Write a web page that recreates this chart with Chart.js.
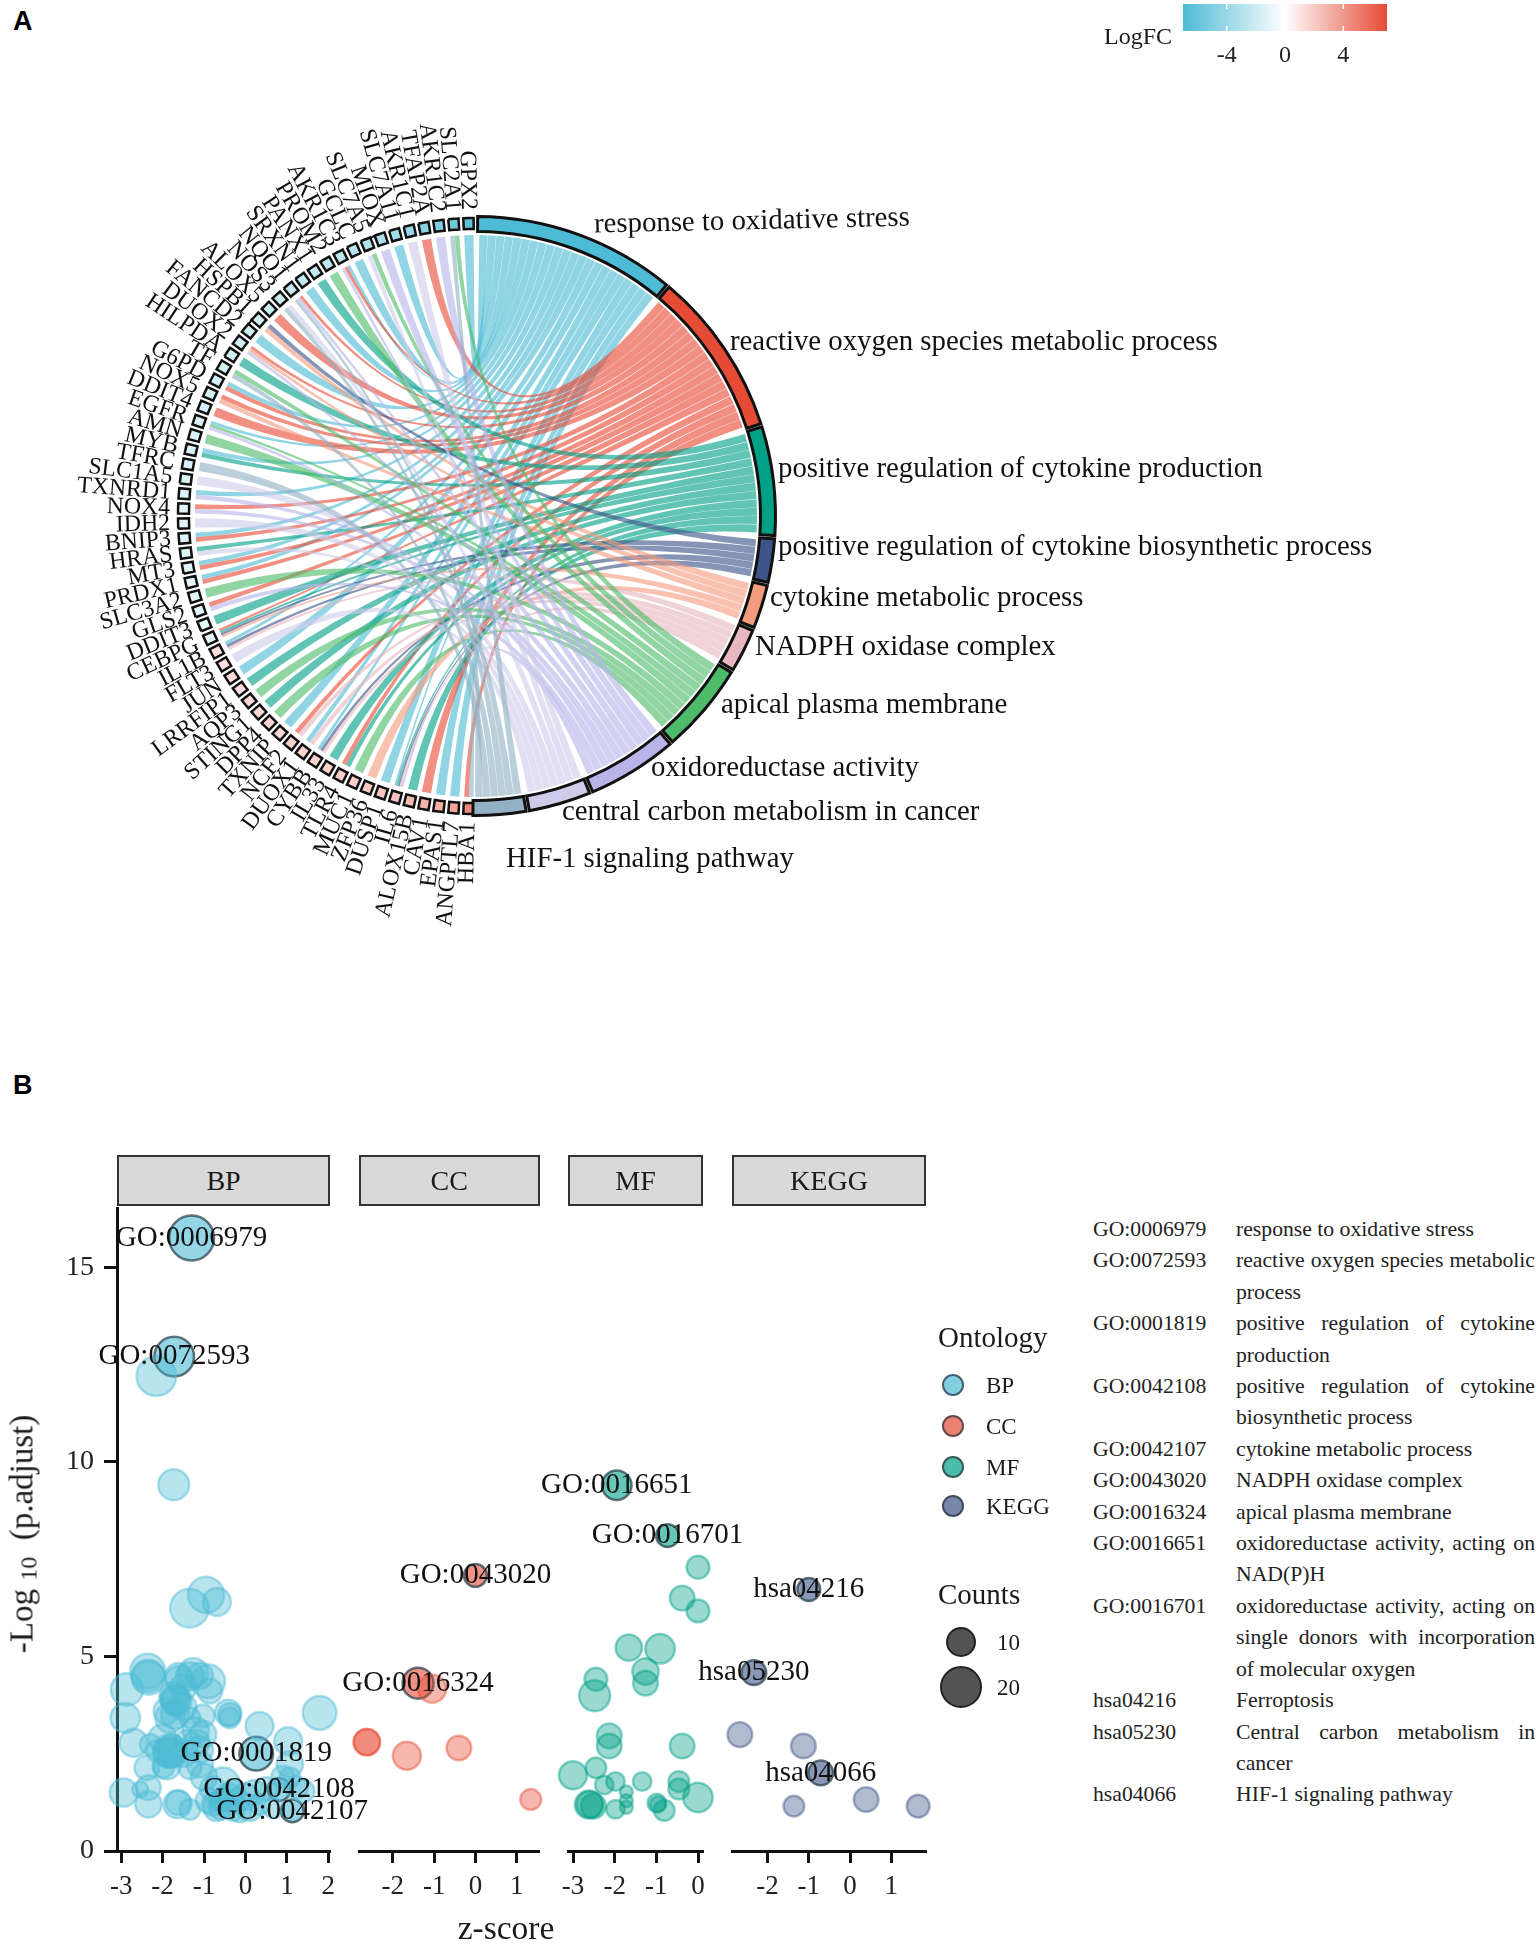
<!DOCTYPE html>
<html>
<head>
<meta charset="utf-8">
<title>GO and KEGG enrichment</title>
<script src="https://cdn.jsdelivr.net/npm/chart.js@4/dist/chart.umd.min.js"></script>
<style>
  html, body { margin: 0; padding: 0; background: #fff; }
  #page { position: relative; width: 1536px; height: 1947px; overflow: hidden;
          font-family: "Liberation Serif", serif; color: #1a1a1a; }
  canvas { position: absolute; }
  .abs { position: absolute; white-space: nowrap; }
  .letter { font: bold 27px "Liberation Sans", sans-serif; color: #000; }
  .strip { position: absolute; box-sizing: border-box; top: 1155px; height: 51px; background: #d9d9d9;
           border: 2.5px solid #333; text-align: center; font-size: 28px; line-height: 47px; }
  .dot { position: absolute; border-radius: 50%; box-sizing: border-box; }
  #goTable { position: absolute; left: 1093px; top: 1214px; width: 442px; display: grid;
             grid-template-columns: 143px 299px; font-size: 21.7px; line-height: 31.4px; color: #222; }
  #goTable div:nth-child(even) { text-align: justify; }
</style>
</head>
<body>
<div id="page">
  <div class="abs letter" style="left:13px;top:6px">A</div>
  <div class="abs letter" style="left:13px;top:1070px">B</div>
  <canvas id="chord" width="1536" height="1032" style="left:0;top:0"></canvas>
  <div class="abs" style="left:1104px;top:23px;font-size:24px">LogFC</div>
  <canvas id="colorbar" width="240" height="72" style="left:1170px;top:0"></canvas>

  <canvas id="panelBP"></canvas>
  <canvas id="panelCC"></canvas>
  <canvas id="panelMF"></canvas>
  <canvas id="panelKEGG"></canvas>
  <div id="strips"></div>
  <div class="abs" style="left:22px;top:1534px;font-size:33px;transform:translate(-50%,-50%) rotate(-90deg)">-Log <span style="font-size:24px;position:relative;top:4px">10</span>&nbsp; (p.adjust)</div>
  <div class="abs" style="left:506px;top:1928px;font-size:33.5px;transform:translate(-50%,-50%)">z-score</div>

  <div id="legends"></div>
  <div id="goTable"></div>
</div>

<script>
// ---- panel A data ----
const terms = ["response to oxidative stress", "reactive oxygen species metabolic process",
  "positive regulation of cytokine production", "positive regulation of cytokine biosynthetic process",
  "cytokine metabolic process", "NADPH oxidase complex", "apical plasma membrane",
  "oxidoreductase activity", "central carbon metabolism in cancer", "HIF-1 signaling pathway"];
const termColors = ["#4DBBD5", "#E64B35", "#00A087", "#3C5488", "#F39B7F", "#E7B8C0", "#4DBB6A", "#B7B4E8", "#CFCBEA", "#91B1C4"];

const genes = ["GPX2", "SLC2A1", "AKR1C2", "TFAP2A", "AKR1C1", "SLC7A11", "MIOX", "SLC7A5", "GCLC", "AKR1C3",
  "PROM2", "PANX1", "SRXN1", "NQO1", "NOS3", "ALOX5", "HSPB1", "FANCD2", "DUOX2", "HILPDA",
  "TF", "G6PD", "NOX5", "DDIT4", "EGFR", "AMN", "MYB", "TFRC", "SLC1A5", "TXNRD1",
  "NOX4", "IDH2", "BNIP3", "HRAS", "MT3", "PRDX1", "SLC3A2", "GLS2", "DDIT3", "CEBPG",
  "IL1B", "FLT3", "JUN", "LRRFIP1", "AQP3", "STING1", "DPP4", "TXNIP", "NCF2", "DUOX1",
  "CYBB", "IL33", "TLR4", "MUC1", "ZFP36", "DUSP1", "IL6", "ALOX15B", "CAV1", "EPAS1",
  "ANGPTL7", "HBA1"];
const geneLogFC = [-6.2, -5.6, -5, -4.6, -4, -3.6, -3.2, -3, -2.7, -2.6,
  -2.5, -2.4, -2.3, -2.2, -2.1, -2, -1.9, -1.9, -1.8, -1.8,
  -1.7, -1.7, -1.6, -1.6, -1.5, -1.5, -1.5, -1.4, -1.4, -1.3,
  -1.3, -1.3, -1.2, -1.2, -1.2, -1.1, -1.1, -1.1, -1, -1,
  1.3, 1.3, 1.4, 1.4, 1.5, 1.5, 1.6, 1.6, 1.7, 1.7,
  1.8, 1.8, 1.9, 2, 2.1, 2.2, 2.4, 2.6, 2.9, 3.2, 3.6, 4.6];
// term indexes linked to each gene, same order as genes
const geneTerms = [[0], [6, 9], [7], [1], [8], [0], [7], [6, 8], [0], [0, 1, 7],
  [6], [2], [0], [1, 7, 9], [8, 9], [1], [3, 4], [0], [1, 4, 7], [2],
  [6, 9], [0, 1], [1, 4], [1], [0, 6, 7], [6], [0, 2], [9], [8], [0, 7],
  [1, 7], [8], [0, 1], [2, 8], [0, 1], [0, 1], [6], [1, 7], [2], [1, 2, 3, 4],
  [0, 3, 5], [8], [0], [2], [6], [2], [6], [0], [1, 5], [0, 5],
  [0, 3, 5], [2], [1, 2], [6], [4], [0], [0, 2, 3, 5, 7], [2], [1], [0],
  [0], [1, 9]];
const termGap = 99;   // share of the ring left to the genes
const geneGap = 62;   // share of the ring left to the terms
const colorbarRange = [-7, 7];

// ---- panel B data ----
const bpIds = ["GO:0006979", "GO:0072593", "GO:0001819", "GO:0042108", "GO:0042107"];
const bpZ = [-1.30, -1.72, 0.26, 0.81, 1.13,
  -2.15, -1.73, -1.35, -0.95, -0.69, 1.79, 0.34, 1.03, -2.36, -2.34, -2.86, -2.90, -2.70, -1.70, -1.66,
  -1.74, -1.62, -1.26, -1.34, -0.90, -0.86, -1.82, -1.34, -1.02, -0.42, -0.38, -0.38, -1.02, -1.18, -1.82,
  -1.78, -1.86, -2.14, -2.30, -2.38, -1.98, -1.34, -1.10, -2.94, -2.34, -2.34, -2.54, -1.64, -1.62, -1.34,
  -0.78, -0.70, -0.54, -0.30, -0.54, -0.30, 0.10, 0.34, -0.14, 1.07, 1.07, 1.23, 1.39, 0.67,
  -1.0, -0.8, -0.6, -0.4, -0.2, 0, 0.2, 0.5, 0.9, -0.9, -0.6, -1.1, -1.4, -1.5, -1.2, -2.0, -1.9, -1.7, -1.5, -1.9,
  -1.6, -1.1, -1.5, -1.8, -1.75, -1.7, -2.35];
const bpLogP = [15.75, 12.7, 2.5, 1.58, 1.03,
  12.2, 9.41, 6.24, 6.58, 6.4, 3.55, 3.21, 2.82, 4.62, 4.45, 4.15, 3.42, 2.78, 3.89, 3.85,
  3.98, 4.49, 4.58, 4.49, 4.36, 4.11, 3.42, 3.42, 3.47, 3.55, 3.51, 3.42, 3.0, 2.78, 2.57,
  2.61, 2.52, 2.57, 2.74, 2.14, 2.14, 2.14, 2.23, 1.50, 1.63, 1.20, 1.58, 1.20, 1.24, 1.07,
  1.20, 1.11, 1.28, 1.07, 1.71, 1.54, 1.11, 1.20, 1.03, 2.23, 1.88, 1.63, 1.54, 1.11,
  1.9, 1.6, 1.3, 1.4, 1.3, 1.4, 1.5, 1.6, 1.9, 1.3, 1.1, 2.6, 2.8, 2.5, 3.1, 2.9, 2.2, 3.5, 3.7, 3.6,
  4.4, 4.5, 4.2, 2.55, 2.5, 3.9, 4.5];
const bpCount = [22, 17, 12, 5, 5,
  17, 10, 16, 14, 8, 12, 8, 8, 13, 12, 11, 9, 8, 9, 9,
  8, 7, 9, 8, 12, 6, 9, 4, 5, 7, 5, 4, 7, 7, 12,
  9, 9, 4, 4, 6, 4, 5, 7, 8, 6, 7, 2, 8, 6, 4,
  5, 7, 5, 5, 12, 5, 7, 4, 5, 7, 4, 5, 5, 4,
  7, 6, 5, 7, 6, 7, 6, 5, 5, 6, 5, 7, 6, 7, 7, 8, 8, 8, 7, 7,
  8, 7, 7, 9, 8, 8, 11];

const ccIds = ["GO:0043020", "GO:0016324"];
const ccZ = [0, -1.39, -1.05, -2.63, -2.63, -1.66, -0.40, 1.34];
const ccLogP = [7.06, 4.30, 4.16, 2.79, 2.79, 2.44, 2.64, 1.32];
const ccCount = [5, 10, 8, 7, 7, 8, 6, 4];

const mfIds = ["GO:0016651", "GO:0016701"];
const mfZ = [-1.95, -0.73, 0, -0.38, 0, -1.66, -0.91, -1.26, -1.26, -2.45, -2.48, -2.13, -2.13, -0.38, -3.0, -2.45,
  -1.98, -2.25, -1.72, -1.72, -1.72, -1.34, -0.46, -0.46, 0, -2.62, -2.60, -2.51, -1.98, -0.99, -0.96, -0.81];
const mfLogP = [9.37, 8.08, 7.27, 6.48, 6.15, 5.21, 5.18, 4.6, 4.3, 4.4, 3.98, 2.95, 2.69, 2.69, 1.94, 2.13,
  1.78, 1.69, 1.51, 1.29, 1.12, 1.78, 1.78, 1.59, 1.37, 1.19, 1.19, 1.15, 1.07, 1.23, 1.2, 1.04];
const mfCount = [9, 5, 5, 6, 5, 7, 9, 7, 6, 5, 10, 6, 6, 6, 8, 4,
  3, 3, 1, 1, 1, 3, 4, 4, 9, 8, 7, 6, 3, 3, 2, 4];

const keggIds = ["hsa04216", "hsa05230", "hsa04066"];
const keggZ = [-1, -2.33, -0.71, -2.67, -1.13, -1.36, 0.39, 1.65];
const keggLogP = [6.7, 4.57, 2.0, 2.98, 2.69, 1.15, 1.32, 1.15];
const keggCount = [5, 6, 6, 6, 6, 4, 6, 5];

const ontologies = ["BP", "CC", "MF", "KEGG"];
const ontologyColors = [[77, 187, 213], [230, 75, 53], [0, 160, 135], [60, 84, 136]];
const legendCounts = [10, 20];

const tableRows = [
  ["GO:0006979", "response to oxidative stress"],
  ["GO:0072593", "reactive oxygen species metabolic process"],
  ["GO:0001819", "positive regulation of cytokine production"],
  ["GO:0042108", "positive regulation of cytokine biosynthetic process"],
  ["GO:0042107", "cytokine metabolic process"],
  ["GO:0043020", "NADPH oxidase complex"],
  ["GO:0016324", "apical plasma membrane"],
  ["GO:0016651", "oxidoreductase activity, acting on NAD(P)H"],
  ["GO:0016701", "oxidoreductase activity, acting on single donors with incorporation of molecular oxygen"],
  ["hsa04216", "Ferroptosis"],
  ["hsa05230", "Central carbon metabolism in cancer"],
  ["hsa04066", "HIF-1 signaling pathway"]
];

Chart.defaults.font.family = '"Liberation Serif", serif';
Chart.defaults.color = "#1a1a1a";
Chart.defaults.animation = false;
Chart.defaults.events = [];
Chart.defaults.plugins.legend.display = false;
Chart.defaults.plugins.tooltip.enabled = false;

// ---- helpers ----
function hexToRgb(hex) {
  return [1, 3, 5].map(i => parseInt(hex.slice(i, i + 2), 16));
}
function rgba(c, a) {
  return `rgba(${c[0]},${c[1]},${c[2]},${a})`;
}
function logfcColor(v) {
  const end = v < 0 ? hexToRgb(termColors[0]) : hexToRgb(termColors[1]);
  const t = Math.min(Math.abs(v) / 7, 1);
  return rgba(end.map(e => Math.round(255 + (e - 255) * t)), 1);
}
// size of a bubble in pixels from its gene count
function countRadius(c) {
  return Math.sqrt(20 + 22 * c);
}

// ---- panel A ----
// term label anchors in pixels: left edge, middle, tilt in radians
const termLabelPos = [[594, 225, -0.022], [730, 342, 0], [778, 469, 0], [778, 547, 0], [770, 598, 0],
  [755, 647, 0], [721, 705, 0], [651, 768, 0], [562, 812, 0], [506, 859, 0]];

const chordPlugin = {
  id: "chord",
  afterDatasetsUpdate(chart) {
    // rings overlap in one band, terms are a bit wider than the gene squares
    const shrink = (a, outer, inner, gap) => {
      a.outerRadius = outer;
      a.innerRadius = inner;
      a.startAngle += gap;
      a.endAngle -= gap;
      a.circumference -= 2 * gap;
    };
    chart.getDatasetMeta(0).data.forEach(a => shrink(a, 299.5, 284.5, 0.0055));
    chart.getDatasetMeta(1).data.forEach(a => shrink(a, 298, 287, 0.008));
  },
  beforeDatasetsDraw(chart) {
    const ctx = chart.ctx;
    const termArcs = chart.getDatasetMeta(0).data;
    const geneArcs = chart.getDatasetMeta(1).data;
    const cx = termArcs[0].x, cy = termArcs[0].y, r = 281;
    const used = terms.map(() => 0);
    const counts = terms.map((_, t) => geneTerms.filter(g => g.includes(t)).length);
    const ribbons = terms.map(() => []);

    geneTerms.forEach((links, i) => {
      const arc = geneArcs[genes.length - i];
      const mid = (arc.startAngle + arc.endAngle) / 2;
      const w = (arc.endAngle - arc.startAngle) * 0.95;
      links.forEach((t, k) => {
        const a1 = mid + w / 2 - k * w / links.length;
        const a2 = a1 - w / links.length;
        const ta = termArcs[t];
        const dt = (ta.endAngle - ta.startAngle - 0.012) / counts[t];
        const b1 = ta.startAngle + 0.006 + used[t] * dt;
        used[t]++;
        ribbons[t].push([a1, a2, b1, b1 + dt * 0.96]);
      });
    });

    ctx.save();
    ribbons.forEach((list, t) => {
      ctx.fillStyle = rgba(hexToRgb(termColors[t]), 0.62);
      list.forEach(([a1, a2, b1, b2]) => {
        ctx.beginPath();
        ctx.moveTo(cx + r * Math.cos(a1), cy + r * Math.sin(a1));
        ctx.quadraticCurveTo(cx, cy, cx + r * Math.cos(b1), cy + r * Math.sin(b1));
        ctx.arc(cx, cy, r, b1, b2, false);
        ctx.quadraticCurveTo(cx, cy, cx + r * Math.cos(a2), cy + r * Math.sin(a2));
        ctx.arc(cx, cy, r, a2, a1, false);
        ctx.closePath();
        ctx.fill();
      });
    });
    ctx.restore();
  },
  afterDatasetsDraw(chart) {
    const ctx = chart.ctx;
    const geneArcs = chart.getDatasetMeta(1).data;
    ctx.save();
    ctx.fillStyle = "#111";
    ctx.textBaseline = "middle";
    ctx.font = '23.8px "Liberation Serif"';
    ctx.textAlign = "right";
    genes.forEach((g, i) => {
      const arc = geneArcs[genes.length - i];
      const a = (arc.startAngle + arc.endAngle) / 2;
      ctx.save();
      ctx.translate(arc.x + 306 * Math.cos(a), arc.y + 306 * Math.sin(a));
      ctx.rotate(a + Math.PI);
      ctx.fillText(g, 0, 0);
      ctx.restore();
    });
    ctx.font = '28.8px "Liberation Serif"';
    ctx.textAlign = "left";
    terms.forEach((t, i) => {
      const [x, y, tilt] = termLabelPos[i];
      ctx.save();
      ctx.translate(x, y);
      ctx.rotate(tilt);
      ctx.fillText(t, 0, 0);
      ctx.restore();
    });
    ctx.restore();
  }
};

const termCounts = terms.map((_, t) => geneTerms.filter(g => g.includes(t)).length);

new Chart(document.getElementById("chord"), {
  type: "doughnut",
  data: {
    labels: terms.concat(["genes"]),
    datasets: [
      {
        data: termCounts.concat([termGap]),
        backgroundColor: termColors.concat(["rgba(0,0,0,0)"]),
        borderColor: termColors.map(() => "#111").concat(["rgba(0,0,0,0)"]),
        borderWidth: 3,
        borderJoinStyle: "miter"
      },
      {
        data: [geneGap].concat(genes.map(() => 1)),
        backgroundColor: ["rgba(0,0,0,0)"].concat(geneLogFC.slice().reverse().map(logfcColor)),
        borderColor: ["rgba(0,0,0,0)"].concat(genes.map(() => "#111")),
        borderWidth: 2.5,
        borderJoinStyle: "miter"
      }
    ]
  },
  options: {
    responsive: false,
    layout: { padding: { right: 584 } },
    radius: 301,
    cutout: "90%",
    rotation: 0
  },
  plugins: [chordPlugin]
});

// colour bar, one floating bar painted with the LogFC gradient
const colorTicks = {
  id: "colorTicks",
  afterDatasetsDraw(chart) {
    const { ctx, chartArea, scales } = chart;
    ctx.save();
    ctx.strokeStyle = "#fff";
    ctx.lineWidth = 1.5;
    scales.x.ticks.forEach(t => {
      const x = scales.x.getPixelForValue(t.value);
      ctx.beginPath();
      ctx.moveTo(x, chartArea.top);
      ctx.lineTo(x, chartArea.top + 5);
      ctx.moveTo(x, chartArea.bottom - 5);
      ctx.lineTo(x, chartArea.bottom);
      ctx.stroke();
    });
    ctx.restore();
  }
};
new Chart(document.getElementById("colorbar"), {
  type: "bar",
  data: {
    labels: ["LogFC"],
    datasets: [{
      data: [colorbarRange],
      categoryPercentage: 1,
      barPercentage: 1,
      backgroundColor(c) {
        const area = c.chart.chartArea;
        if (!area) return "#ccc";
        const g = c.chart.ctx.createLinearGradient(area.left, 0, area.right, 0);
        g.addColorStop(0, termColors[0]);
        g.addColorStop(0.5, "#ffffff");
        g.addColorStop(1, termColors[1]);
        return g;
      }
    }]
  },
  options: {
    responsive: false,
    indexAxis: "y",
    layout: { padding: { top: 4, left: 13, right: 23 } },
    scales: {
      y: { display: false },
      x: {
        min: colorbarRange[0], max: colorbarRange[1],
        afterFit(s) { s.height = 41; },
        border: { display: false },
        grid: { display: false },
        ticks: { stepSize: 4, includeBounds: false, font: { size: 24 }, padding: 2, maxRotation: 0, color: "#222" }
      }
    }
  },
  plugins: [colorTicks]
});

// ---- panel B ----
const labelPlugin = {
  id: "goLabels",
  afterDatasetsDraw(chart, args, opts) {
    const ctx = chart.ctx;
    const pts = chart.getDatasetMeta(1).data;
    ctx.save();
    ctx.fillStyle = "#111";
    ctx.font = '29px "Liberation Serif"';
    ctx.textAlign = "center";
    ctx.textBaseline = "middle";
    opts.ids.forEach((id, i) => ctx.fillText(id, pts[i].x, pts[i].y));
    ctx.restore();
  }
};

function makePanel(cfg) {
  const marginL = 110, marginR = 60;
  // the y axis labels push the BP plot area down a little, so its canvas starts higher
  const top = cfg.showY ? 1182 : 1187;
  const height = 1947 - top;
  const canvas = document.getElementById(cfg.canvas);
  canvas.width = cfg.right - cfg.left + marginL + marginR;
  canvas.height = height;
  canvas.style.left = (cfg.left - marginL) + "px";
  canvas.style.top = top + "px";

  const n = cfg.ids.length;
  const points = cfg.z.map((z, i) => ({ x: z, y: cfg.logP[i], r: countRadius(cfg.count[i]) }));
  const c = cfg.color;

  new Chart(canvas, {
    type: "bubble",
    data: {
      datasets: [
        { data: points.slice(n), backgroundColor: rgba(c, 0.4), borderColor: rgba(c, 0.45), borderWidth: 2.5, clip: false },
        { data: points.slice(0, n), backgroundColor: rgba(c, 0.6), borderColor: "rgba(40,65,75,0.72)", borderWidth: 2.5, clip: false }
      ]
    },
    options: {
      responsive: false,
      layout: { padding: { top: 20, right: marginR, left: cfg.showY ? 0 : marginL } },
      plugins: { goLabels: { ids: cfg.ids } },
      scales: {
        x: {
          type: "linear",
          min: cfg.min, max: cfg.max,
          afterFit(s) { s.height = 96; },
          border: { display: true, width: 3, color: "#111" },
          grid: { drawOnChartArea: false, tickLength: 12, tickWidth: 3, tickColor: "#111" },
          ticks: { stepSize: 1, includeBounds: false, autoSkip: false, maxRotation: 0, font: { size: 27 }, padding: 8, color: "#222" }
        },
        y: {
          display: cfg.showY,
          min: 0, max: 16.5,
          afterFit(s) { if (cfg.showY) s.width = marginL; },
          border: { display: true, width: 3, color: "#111" },
          grid: { drawOnChartArea: false, tickLength: 13, tickWidth: 3, tickColor: "#111" },
          ticks: { stepSize: 5, includeBounds: false, font: { size: 28 }, padding: 10, color: "#222" }
        }
      }
    },
    plugins: [labelPlugin]
  });

  const strip = document.createElement("div");
  strip.className = "strip";
  strip.style.left = cfg.left + "px";
  strip.style.width = (cfg.right - cfg.left) + "px";
  strip.textContent = cfg.name;
  document.getElementById("strips").appendChild(strip);
}

makePanel({ canvas: "panelBP", name: ontologies[0], color: ontologyColors[0], left: 116.7, right: 330.4, min: -3.1, max: 2.04, showY: true, ids: bpIds, z: bpZ, logP: bpLogP, count: bpCount });
makePanel({ canvas: "panelCC", name: ontologies[1], color: ontologyColors[1], left: 359, right: 539.5, min: -2.82, max: 1.54, showY: false, ids: ccIds, z: ccZ, logP: ccLogP, count: ccCount });
makePanel({ canvas: "panelMF", name: ontologies[2], color: ontologyColors[2], left: 567.6, right: 703.4, min: -3.12, max: 0.12, showY: false, ids: mfIds, z: mfZ, logP: mfLogP, count: mfCount });
makePanel({ canvas: "panelKEGG", name: ontologies[3], color: ontologyColors[3], left: 732, right: 926, min: -2.86, max: 1.84, showY: false, ids: keggIds, z: keggZ, logP: keggLogP, count: keggCount });

// legends to the right of the panels
function addText(parent, text, x, y, size) {
  const d = document.createElement("div");
  d.className = "abs";
  d.textContent = text;
  d.style.cssText = `left:${x}px;top:${y}px;font-size:${size}px;line-height:1;transform:translateY(-50%)`;
  parent.appendChild(d);
}
function addDot(parent, x, y, r, fill, stroke) {
  const d = document.createElement("div");
  d.className = "dot";
  d.style.cssText = `left:${x - r}px;top:${y - r}px;width:${2 * r}px;height:${2 * r}px;background:${fill};border:2.5px solid ${stroke}`;
  parent.appendChild(d);
}
const legends = document.getElementById("legends");
addText(legends, "Ontology", 938, 1337, 29);
ontologies.forEach((name, i) => {
  const y = [1385, 1426, 1467, 1506][i];
  addDot(legends, 953, y, 11, rgba(ontologyColors[i], 0.7), "rgba(40,50,60,0.7)");
  addText(legends, name, 986, y, 23);
});
addText(legends, "Counts", 938, 1594, 29);
legendCounts.forEach((c, i) => {
  const y = [1642, 1687][i];
  addDot(legends, 961, y, countRadius(c), "rgba(40,40,40,0.8)", "#222");
  addText(legends, String(c), 997, y, 23);
});

const table = document.getElementById("goTable");
tableRows.forEach(([id, desc]) => {
  const a = document.createElement("div");
  a.textContent = id;
  const b = document.createElement("div");
  b.textContent = desc;
  table.appendChild(a);
  table.appendChild(b);
});
</script>
</body>
</html>
